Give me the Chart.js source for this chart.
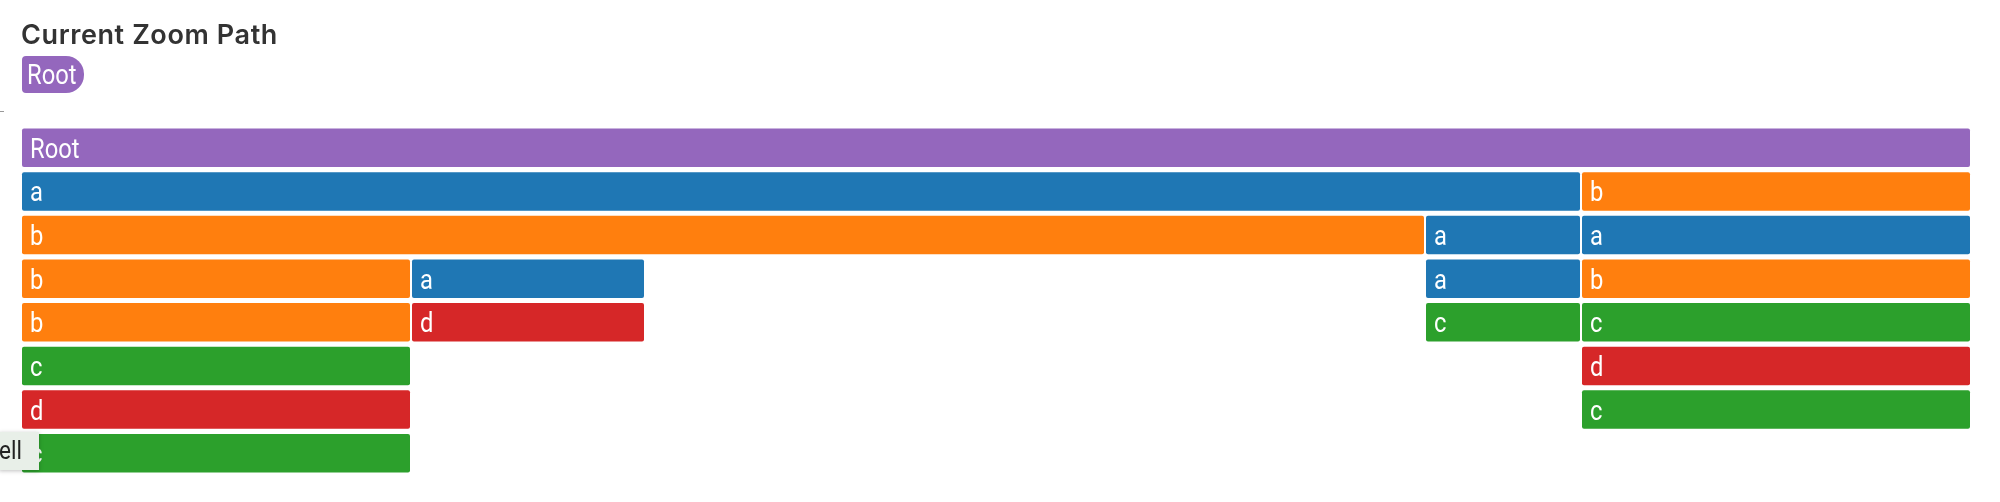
<!DOCTYPE html>
<html>
<head>
<meta charset="utf-8">
<script src="https://cdn.jsdelivr.net/npm/chart.js@4"></script>
<style>
  html, body { margin: 0; padding: 0; background: #fff; }
  #wrap { position: relative; width: 2000px; height: 502px; overflow: hidden; }
  #chartBox { position: absolute; left: 0; top: 0; width: 2000px; height: 502px; }
  #title { position: absolute; left: 21px; top: 18px; font: 600 27px Inter, sans-serif; color: #333;
           letter-spacing: 0.6px; }
  #chip { position: absolute; left: 22px; top: 56px; width: 62px; height: 37px; background: #9467bd;
          border-radius: 4px 18px 18px 4px; }
  #chip span { position: absolute; left: 5px; top: 3px; font: 27px Roboto, sans-serif; color: #fff;
               transform: scaleX(0.88); transform-origin: left top; }
  #dash { position: absolute; left: 0; top: 111px; width: 4px; height: 1px; background: #999; }
  #tip { position: absolute; left: -1px; top: 432px; width: 40px; height: 38px; background: #e8efe8;
         box-shadow: 0 1px 4px rgba(0,0,0,0.25); font: 25px Roboto, sans-serif; color: #222; }
  #tip span { position: absolute; left: 0px; top: 4px; transform: scaleX(0.9); transform-origin: left top; }
</style>
</head>
<body>
<div id="wrap">
  <div id="chartBox"><canvas id="flame"></canvas></div>
  <div id="title">Current Zoom Path</div>
  <div id="chip"><span>Root</span></div>
  <div id="dash"></div>
  <div id="tip"><span>ell</span></div>
</div>
<script>
// flame chart nodes: name, depth (row), start and value (width) in samples
var nodeNames  = ['Root', 'a', 'b', 'b', 'a', 'a', 'b', 'a', 'a', 'b', 'b', 'd', 'c', 'c', 'c', 'd', 'd', 'c', 'c'];
var nodeDepths = [0, 1, 1, 2, 2, 2, 3, 3, 3, 3, 4, 4, 4, 4, 5, 5, 6, 6, 7];
var nodeStarts = [0, 0, 20, 0, 18, 20, 0, 5, 18, 20, 0, 5, 18, 20, 0, 20, 0, 20, 0];
var nodeValues = [25, 20, 5, 18, 2, 5, 5, 3, 2, 5, 5, 3, 2, 5, 5, 5, 5, 5, 5];
var rowLabels  = ['0', '1', '2', '3', '4', '5', '6', '7'];

var nameColors = {
    Root: '#9467bd',
    a: '#1f77b4',
    b: '#ff7f0e',
    c: '#2ca02c',
    d: '#d62728'
};

var points = nodeNames.map(function (n, i) {
    return { y: rowLabels[nodeDepths[i]], x: [nodeStarts[i], nodeStarts[i] + nodeValues[i]] };
});

var barLabels = {
    id: 'barLabels',
    afterDatasetsDraw: function (chart) {
        var ctx = chart.ctx;
        var meta = chart.getDatasetMeta(0);
        ctx.save();
        ctx.fillStyle = '#fff';
        ctx.font = '27px Roboto, sans-serif';
        ctx.textBaseline = 'alphabetic';
        meta.data.forEach(function (bar, i) {
            var left = Math.min(bar.x, bar.base);
            ctx.save();
            ctx.translate(left + 9, bar.y + 10);
            ctx.scale(0.88, 1);
            ctx.fillText(nodeNames[i], 0, 0);
            ctx.restore();
        });
        ctx.restore();
    }
};

var chart = new Chart(document.getElementById('flame').getContext('2d'), {
    type: 'bar',
    data: {
        labels: rowLabels,
        datasets: [{
            data: points,
            backgroundColor: nodeNames.map(function (n) { return nameColors[n]; }),
            borderColor: 'rgba(255,255,255,0.55)',
            borderWidth: 1,
            borderSkipped: false,
            borderRadius: 3,
            barPercentage: 0.93,
            categoryPercentage: 1
        }]
    },
    options: {
        indexAxis: 'y',
        responsive: true,
        maintainAspectRatio: false,
        animation: false,
        layout: { padding: { left: 21, right: 29, top: 126, bottom: 27 } },
        plugins: {
            legend: { display: false },
            tooltip: { enabled: false }
        },
        scales: {
            x: { type: 'linear', min: 0, max: 25, display: false },
            y: { type: 'category', display: false }
        }
    },
    plugins: [barLabels]
});
</script>
</body>
</html>
